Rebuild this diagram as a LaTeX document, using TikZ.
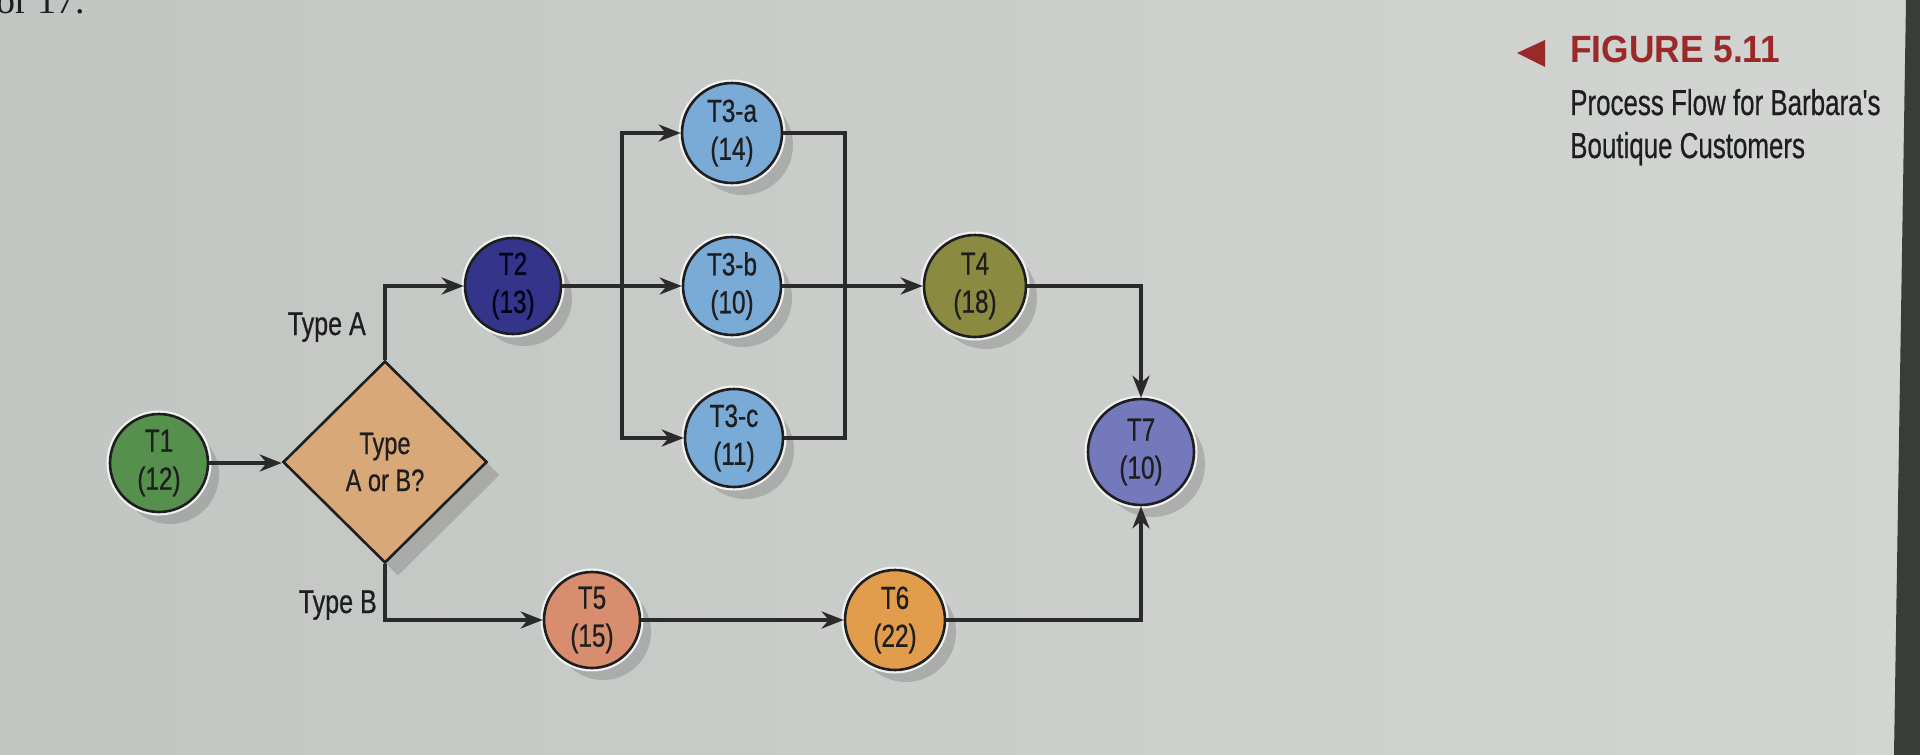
\documentclass[tikz,border=0pt]{standalone}
\usepackage{fontspec}
\setmainfont{Liberation Sans}[FakeStretch=0.76,FakeBold=0.6]
\newfontfamily\capfont{Liberation Sans}[FakeStretch=0.72,FakeBold=0.5]
\newfontfamily\figfont{Liberation Sans}[FakeStretch=0.93]
\newfontfamily\serfont{Liberation Serif}
\usetikzlibrary{shapes.geometric,arrows.meta,shadows,calc}
\definecolor{paperL}{HTML}{C2C6C3}
\definecolor{paperR}{HTML}{D2D5D1}
\definecolor{edgeC}{HTML}{3A3C38}
\definecolor{lineC}{HTML}{2A2A2A}
\definecolor{inkC}{HTML}{1E1E1E}
\definecolor{figred}{HTML}{9A2A2A}
\definecolor{cT1}{HTML}{55904C}
\definecolor{cDec}{HTML}{D9A878}
\definecolor{cT2}{HTML}{34348A}
\definecolor{cT3}{HTML}{7AAAD6}
\definecolor{cT4}{HTML}{8A8A40}
\definecolor{cT7}{HTML}{7479BB}
\definecolor{cT5}{HTML}{D88E6E}
\definecolor{cT6}{HTML}{E19C4C}
\tikzset{
  taskbox/.style={circle, draw=inkC, line width=2.6pt, minimum size=100pt,
    inner sep=0pt, align=center, text=inkC,
    font=\fontsize{32}{38}\selectfont,
    drop shadow={shadow xshift=11pt, shadow yshift=-12pt, fill=black!60, opacity=0.3},
    preaction={draw=white!90!gray, line width=7pt}},
  decbox/.style={diamond, aspect=1, draw=inkC, line width=2.6pt, fill=cDec,
    minimum width=204pt, minimum height=202pt, inner sep=0pt, align=center,
    text=inkC, font=\fontsize{31}{37}\selectfont,
    drop shadow={shadow xshift=13pt, shadow yshift=-13pt, fill=black!60, opacity=0.3}},
  conn/.style={draw=lineC, line width=4.8pt},
  arr/.style={conn, -{Stealth[length=22pt,width=17pt,inset=7pt]}},
  lbl/.style={text=inkC, font=\fontsize{33}{38}\selectfont, inner sep=0pt}
}
\begin{document}
\begin{tikzpicture}[x=1pt,y=-1pt]
  % paper
  \shade[left color=paperL, right color=paperR] (0,0) rectangle (1920,755);
  \useasboundingbox (0,0) rectangle (1920,755);
  \fill[edgeC] (1906,0) -- (1920,0) -- (1920,755) -- (1894,755) -- cycle;

  % page fragment at top left
  \node[anchor=base west, inner sep=0pt, text=inkC, font=\serfont\fontsize{38}{44}\selectfont] (pg) at (-4,13) {or 17.};

  % caption
  \fill[figred] (1517,53) -- (1545,40) -- (1545,67) -- cycle;
  \node[anchor=base west, inner sep=0pt, text=figred, font=\figfont\bfseries\fontsize{38}{44}\selectfont] (fig) at (1570,62) {FIGURE 5.11};
  \node[anchor=base west, inner sep=0pt, text=inkC, font=\capfont\fontsize{36}{44}\selectfont] (cap1) at (1570,115) {Process Flow for Barbara's};
  \node[anchor=base west, inner sep=0pt, text=inkC, font=\capfont\fontsize{36}{44}\selectfont] (cap2) at (1570,158) {Boutique Customers};

  % nodes
  \node[taskbox, fill=cT1, minimum size=98pt] (T1) at (159,463) {T1\\(12)};
  \node[decbox] (D) at (385,462) {Type\\A or B?};
  \node[taskbox, fill=cT2, minimum size=96pt, text=black!90!blue] (T2) at (513,286) {T2\\(13)};
  \node[taskbox, fill=cT3] (T3a) at (732,133) {T3-a\\(14)};
  \node[taskbox, fill=cT3, minimum size=98pt] (T3b) at (732,286) {T3-b\\(10)};
  \node[taskbox, fill=cT3, minimum size=98pt] (T3c) at (734,438) {T3-c\\(11)};
  \node[taskbox, fill=cT4, minimum size=102pt] (T4) at (975,286) {T4\\(18)};
  \node[taskbox, fill=cT7, minimum size=106pt] (T7) at (1141,452) {T7\\(10)};
  \node[taskbox, fill=cT5, minimum size=96pt] (T5) at (592,620) {T5\\(15)};
  \node[taskbox, fill=cT6] (T6) at (895,620) {T6\\(22)};

  \coordinate (br) at (622,286);
  \coordinate (mg) at (845,286);

  % connectors
  \draw[arr] (T1.east) -- (D.west |- T1.east);
  \draw[arr] (D.north) |- (T2);
  \draw[arr] (T2) -- (T3b);
  \draw[arr] (br) |- (T3a);
  \draw[arr] (br) |- (T3c);
  \draw[conn] (T3a) -| (mg);
  \draw[conn] (T3c) -| (mg);
  \draw[arr] (T3b) -- (T4);
  \draw[arr] (T4) -| (T7);
  \draw[arr] (D.south) |- (T5);
  \draw[arr] (T5) -- (T6);
  \draw[arr] (T6) -| (T7);

  % branch labels
  \node[lbl, anchor=base east] (la) at (366,335) {Type A};
  \node[lbl, anchor=base east] (lb) at (377,613) {Type B};
\end{tikzpicture}
\end{document}
